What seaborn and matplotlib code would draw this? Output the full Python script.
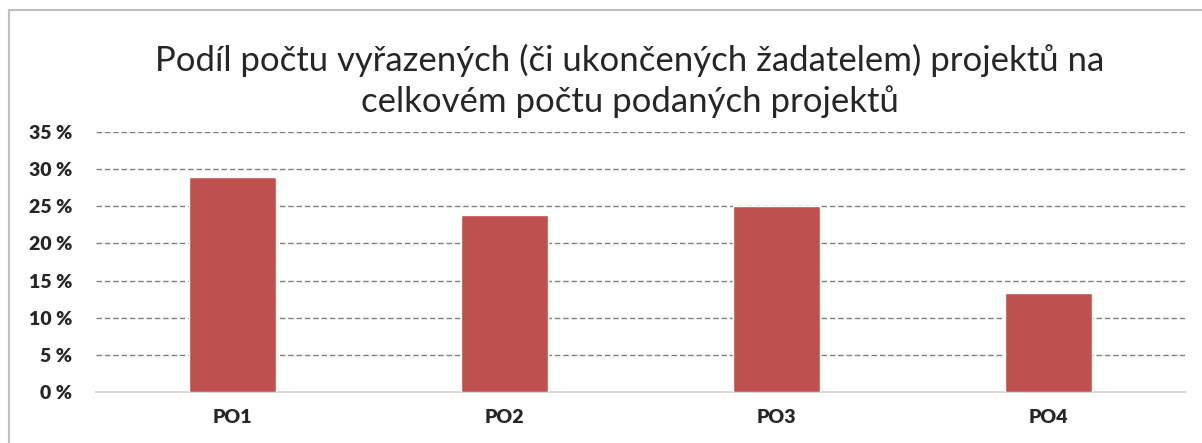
import matplotlib.pyplot as plt
import seaborn as sns
import pandas as pd

# Data
kategorie = ['PO1', 'PO2', 'PO3', 'PO4']
podil = [28.9, 23.8, 25.0, 13.3]
yticks = [0, 5, 10, 15, 20, 25, 30, 35]

dados = pd.DataFrame({'kat': kategorie, 'podil': podil})

sns.set_theme(style="white")
plt.rcParams['font.family'] = ['Lato', 'DejaVu Sans']

fig = plt.figure(figsize=(12.02, 4.43), dpi=100)
ax = fig.add_axes([96 / 1202, 1 - 392 / 443, (1185 - 96) / 1202, 260 / 443])

# outer chart frame
fig.patches.append(plt.Rectangle((9 / 1202, -0.1), 1.2, 1 - 10 / 443 + 0.1,
                                 transform=fig.transFigure, fill=False,
                                 edgecolor='#BFBFBF', linewidth=1.5))

sns.barplot(data=dados, x='kat', y='podil', color='#C0504D', width=0.32,
            saturation=1, ax=ax, zorder=3)

ax.set_ylim(0, 35)
ax.set_yticks(yticks)
ax.set_yticklabels([f'{t} %' for t in yticks], fontsize=14, fontweight='heavy')
ax.set_xticklabels(kategorie, fontsize=14, fontweight='heavy')
ax.tick_params(axis='y', length=0, pad=17)
ax.tick_params(axis='x', length=0, pad=12)
ax.yaxis.grid(True, linestyle=(0, (4, 2)), color='#808080', linewidth=1, zorder=0)
ax.set_axisbelow(True)
for s in ['top', 'right', 'left']:
    ax.spines[s].set_visible(False)
ax.spines['bottom'].set_color('#D9D9D9')
ax.spines['bottom'].set_linewidth(1.5)
ax.set_xlabel('')
ax.set_ylabel('')

fig.text(0.524, 1 - 81 / 443,
         'Podíl počtu vyřazených (či ukončených žadatelem) projektů na\ncelkovém počtu podaných projektů',
         ha='center', va='center', fontsize=25, linespacing=1.28)

fig.savefig('out.png', dpi=100)
